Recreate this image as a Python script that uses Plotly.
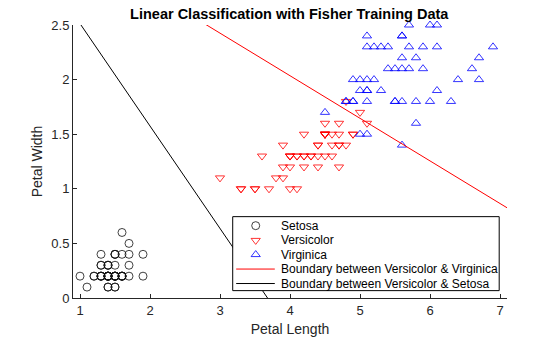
import numpy as np
import plotly.graph_objects as go

# Fisher iris: petal length / petal width per species
setosa_len = [1.4, 1.4, 1.3, 1.5, 1.4, 1.7, 1.4, 1.5, 1.4, 1.5, 1.5, 1.6, 1.4, 1.1, 1.2, 1.5, 1.3,
              1.4, 1.7, 1.5, 1.7, 1.5, 1.0, 1.7, 1.9, 1.6, 1.6, 1.5, 1.4, 1.6, 1.6, 1.5, 1.5, 1.4,
              1.5, 1.2, 1.3, 1.4, 1.3, 1.5, 1.3, 1.3, 1.3, 1.6, 1.9, 1.4, 1.6, 1.4, 1.5, 1.4]
setosa_wid = [0.2, 0.2, 0.2, 0.2, 0.2, 0.4, 0.3, 0.2, 0.2, 0.1, 0.2, 0.2, 0.1, 0.1, 0.2, 0.4, 0.4,
              0.3, 0.3, 0.3, 0.2, 0.4, 0.2, 0.5, 0.2, 0.2, 0.4, 0.2, 0.2, 0.2, 0.2, 0.4, 0.1, 0.2,
              0.2, 0.2, 0.2, 0.1, 0.2, 0.2, 0.3, 0.3, 0.2, 0.6, 0.4, 0.3, 0.2, 0.2, 0.2, 0.2]

versicolor_len = [4.7, 4.5, 4.9, 4.0, 4.6, 4.5, 4.7, 3.3, 4.6, 3.9, 3.5, 4.2, 4.0, 4.7, 3.6, 4.4, 4.5,
                  4.1, 4.5, 3.9, 4.8, 4.0, 4.9, 4.7, 4.3, 4.4, 4.8, 5.0, 4.5, 3.5, 3.8, 3.7, 3.9, 5.1,
                  4.5, 4.5, 4.7, 4.4, 4.1, 4.0, 4.4, 4.6, 4.0, 3.3, 4.2, 4.2, 4.2, 4.3, 3.0, 4.1]
versicolor_wid = [1.4, 1.5, 1.5, 1.3, 1.5, 1.3, 1.6, 1.0, 1.3, 1.4, 1.0, 1.5, 1.0, 1.4, 1.3, 1.4, 1.5,
                  1.0, 1.5, 1.1, 1.8, 1.3, 1.5, 1.2, 1.3, 1.4, 1.4, 1.7, 1.5, 1.0, 1.1, 1.0, 1.2, 1.6,
                  1.5, 1.6, 1.5, 1.3, 1.3, 1.3, 1.2, 1.4, 1.2, 1.0, 1.3, 1.2, 1.3, 1.3, 1.1, 1.3]

virginica_len = [6.0, 5.1, 5.9, 5.6, 5.8, 6.6, 4.5, 6.3, 5.8, 6.1, 5.1, 5.3, 5.5, 5.0, 5.1, 5.3, 5.5,
                 6.7, 6.9, 5.0, 5.7, 4.9, 6.7, 4.9, 5.7, 6.0, 4.8, 4.9, 5.6, 5.8, 6.1, 6.4, 5.6, 5.1,
                 5.6, 6.1, 5.6, 5.5, 4.8, 5.4, 5.6, 5.1, 5.1, 5.9, 5.7, 5.2, 5.0, 5.2, 5.4, 5.1]
virginica_wid = [2.5, 1.9, 2.1, 1.8, 2.2, 2.1, 1.7, 1.8, 1.8, 2.5, 2.0, 1.9, 2.1, 2.0, 2.4, 2.3, 1.8,
                 2.2, 2.3, 1.5, 2.3, 2.0, 2.0, 1.8, 2.1, 1.8, 1.8, 1.8, 2.1, 1.6, 1.9, 2.0, 2.2, 1.5,
                 1.4, 2.3, 2.4, 1.8, 1.8, 2.1, 2.4, 2.3, 1.9, 2.3, 2.5, 2.3, 1.9, 2.0, 2.3, 1.8]

# Linear discriminant boundaries: K + L1*x + L2*y = 0
vv_K, vv_L = -9.219, [1.0, 2.564]     # Versicolor vs Virginica
vs_K, vs_L = -3.451, [0.938, 1.0]     # Versicolor vs Setosa

legend_labels = ["Setosa", "Versicolor", "Virginica",
                 "Boundary between Versicolor & Virginica",
                 "Boundary between Versicolor & Setosa"]

x_range = [0.9, 7.1]
y_range = [0, 2.5]
FONT = "Liberation Sans, Arial, Helvetica, sans-serif"
AX = "#262626"

fig = go.Figure()

fig.add_trace(go.Scatter(x=setosa_len, y=setosa_wid, mode="markers", cliponaxis=False,
                         marker=dict(symbol="circle-open", size=8, color="#111111",
                                     line=dict(width=0.8))))
fig.add_trace(go.Scatter(x=versicolor_len, y=versicolor_wid, mode="markers", cliponaxis=False,
                         marker=dict(symbol="triangle-down-open", size=8, color="#ff0000",
                                     line=dict(width=0.8))))
fig.add_trace(go.Scatter(x=virginica_len, y=virginica_wid, mode="markers", cliponaxis=False,
                         marker=dict(symbol="triangle-up-open", size=8, color="#0000ff",
                                     line=dict(width=0.8))))

xs = np.linspace(x_range[0], x_range[1], 200)
fig.add_trace(go.Scatter(x=xs, y=-(vv_K + vv_L[0] * xs) / vv_L[1], mode="lines",
                         line=dict(color="#ff0000", width=1)))
fig.add_trace(go.Scatter(x=xs, y=-(vs_K + vs_L[0] * xs) / vs_L[1], mode="lines",
                         line=dict(color="#000000", width=1)))

# Legend panel drawn on an overlay axis spanning the plot area (0..1 in both directions)
bx0, bx1, by0, by1 = 0.368, 0.982, 0.027, 0.298
row_y = [0.265, 0.211, 0.159, 0.106, 0.053]
mark_x = 0.421
line_x = [0.376, 0.465]
text_x = 0.474

fig.add_trace(go.Scatter(x=[bx0, bx1, bx1, bx0, bx0], y=[by0, by0, by1, by1, by0],
                         xaxis="x2", yaxis="y2", mode="lines", fill="toself",
                         fillcolor="white", line=dict(color="#000000", width=1)))
for sym, col, yy in [("circle-open", "#111111", row_y[0]),
                     ("triangle-down-open", "#ff0000", row_y[1]),
                     ("triangle-up-open", "#0000ff", row_y[2])]:
    fig.add_trace(go.Scatter(x=[mark_x], y=[yy], xaxis="x2", yaxis="y2", mode="markers",
                             marker=dict(symbol=sym, size=8, color=col, line=dict(width=0.8))))
for col, yy in [("#ff0000", row_y[3]), ("#000000", row_y[4])]:
    fig.add_trace(go.Scatter(x=line_x, y=[yy, yy], xaxis="x2", yaxis="y2", mode="lines",
                             line=dict(color=col, width=1)))

for label, yy in zip(legend_labels, row_y):
    fig.add_annotation(x=text_x, y=yy, xref="x2", yref="y2", text=label, showarrow=False,
                       xanchor="left", yanchor="middle",
                       font=dict(family=FONT, size=12, color="#000000"))

fig.update_layout(
    width=560, height=337,
    margin=dict(l=73, r=53, t=25, b=39, autoexpand=False),
    paper_bgcolor="white", plot_bgcolor="white",
    showlegend=False,
    title=dict(text="<b>Linear Classification with Fisher Training Data</b>",
               x=0.5165, xanchor="center", y=1 - 14 / 337, yanchor="middle",
               font=dict(family=FONT, size=14.5, color="#000000")),
    xaxis=dict(range=x_range, tickvals=[1, 2, 3, 4, 5, 6, 7], ticks="inside", ticklen=4,
               tickcolor=AX, showline=True, linecolor=AX, linewidth=1, showgrid=False,
               zeroline=False, automargin=False, tickfont=dict(family=FONT, size=13, color=AX),
               title=dict(text="Petal Length", standoff=7,
                          font=dict(family=FONT, size=14, color=AX))),
    yaxis=dict(range=y_range, tickvals=[0, 0.5, 1, 1.5, 2, 2.5], ticks="inside", ticklen=4,
               tickcolor=AX, showline=True, linecolor=AX, linewidth=1, showgrid=False,
               zeroline=False, automargin=False, tickfont=dict(family=FONT, size=13, color=AX),
               title=dict(text="Petal Width", standoff=5,
                          font=dict(family=FONT, size=14, color=AX))),
    xaxis2=dict(overlaying="x", range=[0, 1], visible=False, fixedrange=True),
    yaxis2=dict(overlaying="y", range=[0, 1], visible=False, fixedrange=True),
)

fig.write_html("out.html")
